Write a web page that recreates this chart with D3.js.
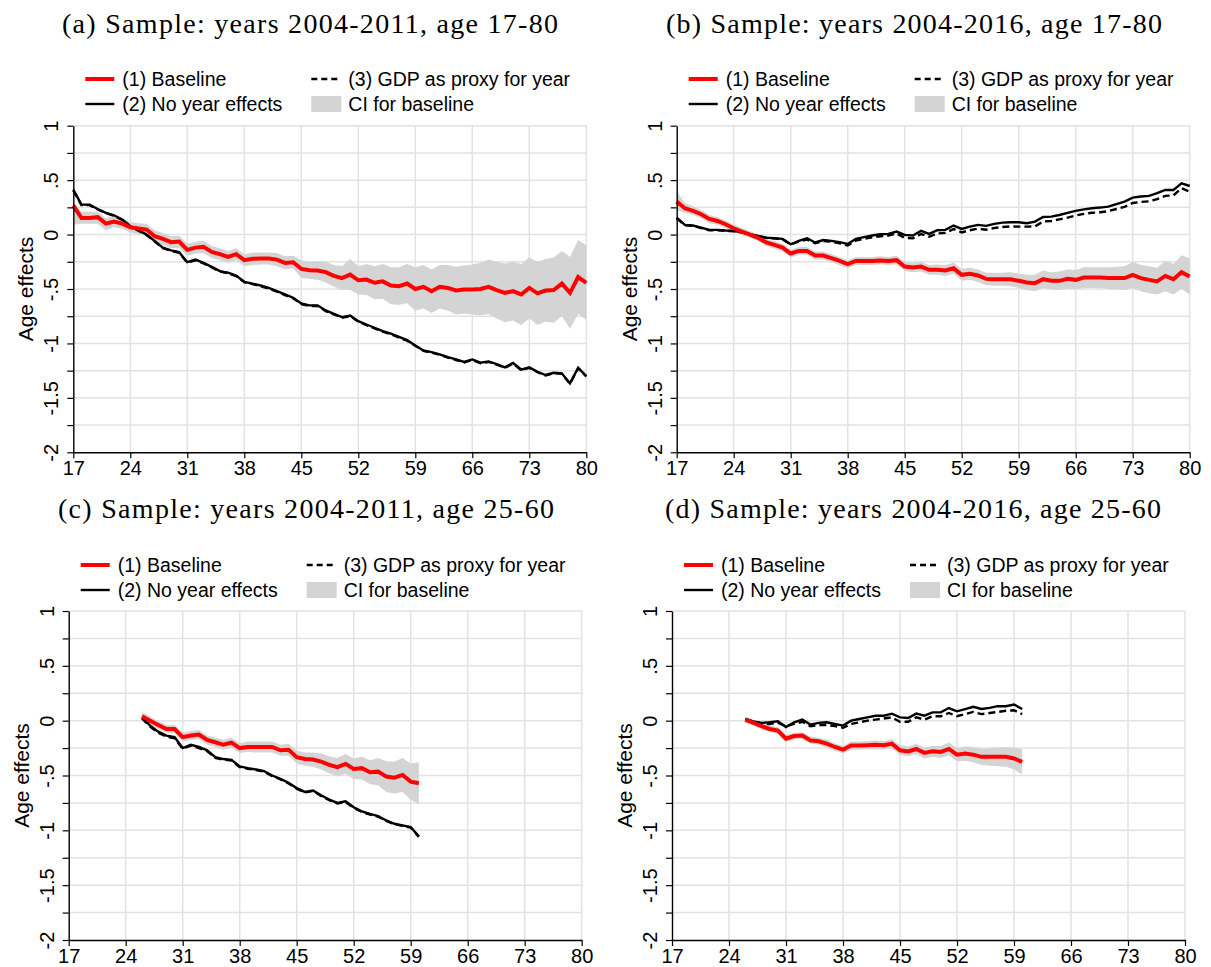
<!DOCTYPE html>
<html>
<head>
<meta charset="utf-8">
<script src="https://cdn.jsdelivr.net/npm/d3@7"></script>
<style>
  html, body { margin: 0; padding: 0; background: #fff; }
  svg { display: block; }
</style>
</head>
<body>
<svg id="chart" width="1211" height="967"></svg>
<script>
// ---- Age grids -------------------------------------------------------------
const agesFull = d3.range(17, 81);   // 17..80
const agesPrime = d3.range(26, 61);  // 26..60

// ---- Axis ticks ------------------------------------------------------------
const xTicks = [17, 24, 31, 38, 45, 52, 59, 66, 73, 80];
const yMajor = [1, 0.5, 0, -0.5, -1, -1.5, -2];
const yMajorLabels = ["1", ".5", "0", "-.5", "-1", "-1.5", "-2"];
const yMinor = [1, 0.75, 0.5, 0.25, 0, -0.25, -0.5, -0.75, -1, -1.25, -1.5, -1.75, -2];

// ---- Legend ----------------------------------------------------------------
const legendLabels = ["(1) Baseline", "(2) No year effects", "(3) GDP as proxy for year", "CI for baseline"];

// ---- Panel titles ----------------------------------------------------------
const panelTitles = [
  "(a) Sample: years 2004-2011, age 17-80",
  "(b) Sample: years 2004-2016, age 17-80",
  "(c) Sample: years 2004-2011, age 25-60",
  "(d) Sample: years 2004-2016, age 25-60"
];

// ---- (a) years 2004-2011, age 17-80 ---------------------------------------
const baselineA = [
  0.266, 0.153, 0.153, 0.16, 0.10, 0.12, 0.10, 0.067, 0.055, 0.046,
  -0.015, -0.04, -0.07, -0.064, -0.14, -0.12, -0.113, -0.16, -0.18, -0.205,
  -0.18, -0.235, -0.223, -0.22, -0.22, -0.23, -0.26, -0.254, -0.315, -0.327,
  -0.33, -0.345, -0.38, -0.40, -0.367, -0.42, -0.413, -0.443, -0.43, -0.468,
  -0.474, -0.45, -0.50, -0.48, -0.52, -0.48, -0.49, -0.514, -0.505, -0.505,
  -0.50, -0.48, -0.51, -0.535, -0.52, -0.55, -0.49, -0.54, -0.514, -0.51,
  -0.45, -0.535, -0.39, -0.443
];
const ciLowA = [
  0.09, 0.10, 0.10, 0.10, 0.04, 0.07, 0.05, 0.02, 0.005, -0.005,
  -0.065, -0.095, -0.125, -0.12, -0.195, -0.175, -0.17, -0.215, -0.235, -0.26,
  -0.235, -0.29, -0.28, -0.275, -0.275, -0.29, -0.32, -0.31, -0.40, -0.405,
  -0.415, -0.44, -0.48, -0.51, -0.51, -0.55, -0.555, -0.595, -0.59, -0.64,
  -0.645, -0.63, -0.70, -0.68, -0.72, -0.68, -0.70, -0.735, -0.725, -0.735,
  -0.74, -0.73, -0.77, -0.805, -0.79, -0.83, -0.77, -0.83, -0.80, -0.81,
  -0.75, -0.865, -0.73, -0.785
];
const ciHighA = [
  0.30, 0.21, 0.21, 0.21, 0.15, 0.17, 0.15, 0.115, 0.105, 0.10,
  0.04, 0.015, -0.015, -0.01, -0.085, -0.065, -0.055, -0.105, -0.125, -0.15,
  -0.125, -0.18, -0.165, -0.165, -0.165, -0.17, -0.20, -0.195, -0.235, -0.25,
  -0.245, -0.25, -0.28, -0.29, -0.225, -0.29, -0.27, -0.29, -0.27, -0.30,
  -0.30, -0.27, -0.30, -0.28, -0.32, -0.28, -0.28, -0.295, -0.285, -0.275,
  -0.26, -0.23, -0.25, -0.265, -0.25, -0.27, -0.21, -0.25, -0.225, -0.21,
  -0.15, -0.205, -0.05, -0.10
];
const noYearA = [
  0.413, 0.275, 0.275, 0.235, 0.20, 0.177, 0.138, 0.076, 0.04, 0.0,
  -0.06, -0.12, -0.145, -0.162, -0.254, -0.23, -0.26, -0.297, -0.336, -0.35,
  -0.376, -0.434, -0.45, -0.468, -0.49, -0.52, -0.55, -0.58, -0.633, -0.65,
  -0.65, -0.697, -0.728, -0.758, -0.743, -0.795, -0.826, -0.856, -0.887, -0.91,
  -0.94, -0.97, -1.018, -1.064, -1.08, -1.10, -1.125, -1.147, -1.17, -1.147,
  -1.177, -1.165, -1.19, -1.22, -1.18, -1.24, -1.22, -1.26, -1.29, -1.27,
  -1.275, -1.367, -1.223, -1.30
];
const gdpA = [
  0.405, 0.27, 0.27, 0.23, 0.198, 0.172, 0.135, 0.074, 0.036, -0.004,
  -0.064, -0.124, -0.15, -0.168, -0.258, -0.236, -0.265, -0.302, -0.34, -0.356,
  -0.382, -0.438, -0.455, -0.474, -0.496, -0.525, -0.556, -0.586, -0.638, -0.656,
  -0.656, -0.703, -0.733, -0.764, -0.748, -0.80, -0.832, -0.862, -0.892, -0.915,
  -0.946, -0.975, -1.022, -1.068, -1.085, -1.104, -1.13, -1.152, -1.174, -1.152,
  -1.182, -1.17, -1.195, -1.224, -1.186, -1.244, -1.225, -1.264, -1.294, -1.274,
  -1.28, -1.37, -1.228, -1.304
];

// ---- (b) years 2004-2016, age 17-80 ---------------------------------------
const baselineB = [
  0.303, 0.242, 0.217, 0.187, 0.144, 0.125, 0.095, 0.058, 0.028, 0.0,
  -0.03, -0.073, -0.095, -0.12, -0.174, -0.15, -0.15, -0.193, -0.193, -0.217,
  -0.242, -0.272, -0.242, -0.242, -0.242, -0.238, -0.242, -0.235, -0.294, -0.303,
  -0.294, -0.324, -0.324, -0.33, -0.31, -0.37, -0.36, -0.376, -0.407, -0.41,
  -0.41, -0.41, -0.425, -0.44, -0.446, -0.41, -0.425, -0.425, -0.407, -0.416,
  -0.394, -0.394, -0.394, -0.40, -0.40, -0.40, -0.37, -0.40, -0.416, -0.43,
  -0.38, -0.41, -0.346, -0.385
];
const ciLowB = [
  0.22, 0.20, 0.18, 0.15, 0.105, 0.09, 0.06, 0.025, -0.005, -0.03,
  -0.06, -0.105, -0.13, -0.155, -0.21, -0.185, -0.185, -0.23, -0.23, -0.255,
  -0.28, -0.31, -0.28, -0.28, -0.28, -0.275, -0.28, -0.275, -0.335, -0.345,
  -0.34, -0.37, -0.37, -0.38, -0.36, -0.425, -0.415, -0.435, -0.465, -0.47,
  -0.47, -0.475, -0.49, -0.51, -0.52, -0.49, -0.505, -0.51, -0.495, -0.505,
  -0.49, -0.49, -0.49, -0.50, -0.505, -0.51, -0.49, -0.52, -0.54, -0.55,
  -0.52, -0.55, -0.50, -0.55
];
const ciHighB = [
  0.40, 0.29, 0.26, 0.225, 0.18, 0.16, 0.13, 0.09, 0.06, 0.03,
  0.0, -0.04, -0.06, -0.085, -0.14, -0.115, -0.115, -0.155, -0.155, -0.18,
  -0.205, -0.235, -0.205, -0.205, -0.205, -0.20, -0.205, -0.195, -0.25, -0.26,
  -0.25, -0.28, -0.275, -0.28, -0.26, -0.315, -0.305, -0.32, -0.35, -0.35,
  -0.35, -0.345, -0.36, -0.37, -0.37, -0.33, -0.345, -0.34, -0.32, -0.325,
  -0.30, -0.30, -0.30, -0.30, -0.295, -0.29, -0.25, -0.28, -0.29, -0.305,
  -0.24, -0.27, -0.19, -0.22
];
const noYearB = [
  0.156, 0.089, 0.083, 0.064, 0.043, 0.043, 0.037, 0.034, 0.021, 0.003,
  -0.012, -0.028, -0.034, -0.04, -0.089, -0.058, -0.034, -0.073, -0.05, -0.058,
  -0.07, -0.086, -0.04, -0.024, -0.009, 0.003, 0.006, 0.028, -0.003, -0.009,
  0.034, 0.006, 0.04, 0.043, 0.083, 0.052, 0.073, 0.089, 0.08, 0.098,
  0.11, 0.113, 0.113, 0.104, 0.119, 0.162, 0.165, 0.18, 0.20, 0.217,
  0.232, 0.242, 0.248, 0.257, 0.28, 0.303, 0.34, 0.35, 0.355, 0.38,
  0.41, 0.41, 0.47, 0.446
];
const gdpB = [
  0.15, 0.085, 0.08, 0.06, 0.04, 0.04, 0.035, 0.03, 0.02, 0.0,
  -0.015, -0.03, -0.035, -0.045, -0.09, -0.065, -0.045, -0.08, -0.06, -0.065,
  -0.08, -0.10, -0.055, -0.04, -0.025, -0.015, -0.01, 0.01, -0.03, -0.035,
  0.005, -0.02, 0.01, 0.015, 0.05, 0.02, 0.04, 0.055, 0.045, 0.06,
  0.07, 0.075, 0.073, 0.073, 0.075, 0.12, 0.125, 0.14, 0.155, 0.175,
  0.19, 0.20, 0.205, 0.215, 0.235, 0.255, 0.29, 0.30, 0.305, 0.325,
  0.355, 0.36, 0.425, 0.394
];

// ---- (c) years 2004-2011, age 25-60 ---------------------------------------
const baselineC = [
  0.04, 0.0, -0.04, -0.076, -0.076, -0.15, -0.136, -0.127, -0.176, -0.197,
  -0.22, -0.20, -0.25, -0.24, -0.24, -0.24, -0.24, -0.27, -0.265, -0.333,
  -0.35, -0.355, -0.373, -0.403, -0.424, -0.394, -0.44, -0.433, -0.47, -0.465,
  -0.51, -0.52, -0.495, -0.556, -0.57
];
const ciLowC = [
  0.0, -0.035, -0.075, -0.11, -0.115, -0.19, -0.175, -0.17, -0.22, -0.24,
  -0.265, -0.245, -0.295, -0.285, -0.29, -0.29, -0.29, -0.32, -0.32, -0.39,
  -0.41, -0.42, -0.445, -0.48, -0.51, -0.485, -0.535, -0.535, -0.58, -0.59,
  -0.65, -0.665, -0.65, -0.72, -0.76
];
const ciHighC = [
  0.08, 0.035, -0.005, -0.04, -0.04, -0.11, -0.095, -0.085, -0.135, -0.155,
  -0.175, -0.155, -0.205, -0.19, -0.19, -0.19, -0.19, -0.22, -0.21, -0.275,
  -0.29, -0.29, -0.30, -0.325, -0.34, -0.305, -0.345, -0.33, -0.36, -0.34,
  -0.37, -0.375, -0.34, -0.39, -0.38
];
const noYearC = [
  0.03, -0.045, -0.10, -0.136, -0.15, -0.25, -0.22, -0.24, -0.27, -0.333,
  -0.35, -0.357, -0.418, -0.433, -0.445, -0.46, -0.50, -0.53, -0.567, -0.615,
  -0.65, -0.636, -0.68, -0.72, -0.75, -0.736, -0.79, -0.827, -0.85, -0.87,
  -0.91, -0.94, -0.955, -0.97, -1.055
];
const gdpC = [
  0.02, -0.055, -0.11, -0.145, -0.16, -0.255, -0.228, -0.25, -0.278, -0.34,
  -0.356, -0.363, -0.423, -0.438, -0.45, -0.466, -0.505, -0.535, -0.572, -0.62,
  -0.655, -0.642, -0.686, -0.725, -0.755, -0.742, -0.795, -0.832, -0.856, -0.875,
  -0.915, -0.945, -0.96, -0.975, -1.06
];

// ---- (d) years 2004-2016, age 25-60 ---------------------------------------
const baselineD = [
  0.01, -0.02, -0.05, -0.076, -0.09, -0.164, -0.14, -0.136, -0.18, -0.188,
  -0.21, -0.24, -0.264, -0.227, -0.227, -0.224, -0.22, -0.224, -0.21, -0.27,
  -0.28, -0.258, -0.294, -0.28, -0.285, -0.258, -0.31, -0.30, -0.31, -0.33,
  -0.33, -0.33, -0.33, -0.345, -0.375
];
const ciLowD = [
  -0.015, -0.045, -0.08, -0.105, -0.12, -0.195, -0.17, -0.17, -0.21, -0.22,
  -0.245, -0.275, -0.30, -0.265, -0.265, -0.26, -0.26, -0.265, -0.25, -0.315,
  -0.325, -0.305, -0.345, -0.33, -0.34, -0.315, -0.37, -0.365, -0.38, -0.405,
  -0.41, -0.415, -0.42, -0.445, -0.49
];
const ciHighD = [
  0.04, 0.005, -0.02, -0.045, -0.06, -0.13, -0.11, -0.105, -0.145, -0.155,
  -0.175, -0.205, -0.23, -0.19, -0.19, -0.185, -0.18, -0.185, -0.17, -0.225,
  -0.235, -0.21, -0.245, -0.23, -0.23, -0.20, -0.25, -0.235, -0.24, -0.255,
  -0.25, -0.245, -0.24, -0.245, -0.26
];
const noYearD = [
  0.015, -0.006, -0.02, -0.015, -0.006, -0.058, -0.015, 0.01, -0.036, -0.02,
  -0.015, -0.03, -0.045, 0.0, 0.015, 0.03, 0.045, 0.045, 0.064, 0.03,
  0.024, 0.064, 0.045, 0.076, 0.076, 0.115, 0.085, 0.106, 0.126, 0.107,
  0.117, 0.132, 0.132, 0.147, 0.107
];
const gdpD = [
  0.01, -0.01, -0.025, -0.03, -0.02, -0.05, -0.03, -0.01, -0.05, -0.04,
  -0.04, -0.05, -0.065, -0.03, -0.015, 0.0, 0.01, 0.02, 0.03, -0.01,
  -0.01, 0.03, 0.01, 0.04, 0.04, 0.07, 0.04, 0.06, 0.08, 0.06,
  0.07, 0.08, 0.09, 0.095, 0.06
];

// ---- Panel layout ----------------------------------------------------------
const panels = [
  { title: panelTitles[0], ages: agesFull, base: baselineA, lo: ciLowA, hi: ciHighA, noYear: noYearA, gdp: gdpA,
    x0: 73.3, x1: 586.3, yTop: 125.7, yBot: 452.3, titleX: 62, titleY: 33, legY: 79 },
  { title: panelTitles[1], ages: agesFull, base: baselineB, lo: ciLowB, hi: ciHighB, noYear: noYearB, gdp: gdpB,
    x0: 676.7, x1: 1189.7, yTop: 125.7, yBot: 452.3, titleX: 666, titleY: 33, legY: 79 },
  { title: panelTitles[2], ages: agesPrime, base: baselineC, lo: ciLowC, hi: ciHighC, noYear: noYearC, gdp: gdpC,
    x0: 68.7, x1: 581.7, yTop: 611, yBot: 940, titleX: 58, titleY: 518, legY: 565 },
  { title: panelTitles[3], ages: agesPrime, base: baselineD, lo: ciLowD, hi: ciHighD, noYear: noYearD, gdp: gdpD,
    x0: 672, x1: 1185, yTop: 611, yBot: 940, titleX: 665, titleY: 518, legY: 565 }
];

const SANS = "'Liberation Sans', Arial, Helvetica, sans-serif";
const SERIF = "'Liberation Serif', 'Times New Roman', serif";
const RED = "#ff0000";
const CI_FILL = "#d4d4d4";
const GRID = "#e2e2e2";

const svg = d3.select("#chart");

panels.forEach(p => {
  const g = svg.append("g");
  const x = d3.scaleLinear().domain([17, 80]).range([p.x0, p.x1]);
  const y = d3.scaleLinear().domain([-2, 1]).range([p.yBot, p.yTop]);

  // Title
  g.append("text")
    .attr("x", p.titleX).attr("y", p.titleY)
    .attr("font-family", SERIF).attr("font-size", 28)
    .attr("textLength", 496).attr("lengthAdjust", "spacing")
    .attr("fill", "#000")
    .text(p.title);

  // Grid
  g.append("g").selectAll("line").data(yMinor.filter(v => v > -2)).join("line")
    .attr("x1", p.x0).attr("x2", p.x1)
    .attr("y1", d => y(d)).attr("y2", d => y(d))
    .attr("stroke", GRID).attr("stroke-width", 1.5);
  g.append("g").selectAll("line").data(xTicks.filter(v => v > 17)).join("line")
    .attr("x1", d => x(d)).attr("x2", d => x(d))
    .attr("y1", p.yTop).attr("y2", p.yBot)
    .attr("stroke", GRID).attr("stroke-width", 1.5);

  // Series
  const rows = p.ages.map((a, i) => ({ age: a, base: p.base[i], lo: p.lo[i], hi: p.hi[i], noYear: p.noYear[i], gdp: p.gdp[i] }));

  g.append("path").datum(rows)
    .attr("fill", CI_FILL).attr("stroke", "none")
    .attr("d", d3.area().x(d => x(d.age)).y0(d => y(d.lo)).y1(d => y(d.hi)));

  g.append("path").datum(rows)
    .attr("fill", "none").attr("stroke", "#000").attr("stroke-width", 2.4)
    .attr("stroke-dasharray", "7,4")
    .attr("d", d3.line().x(d => x(d.age)).y(d => y(d.gdp)));

  g.append("path").datum(rows)
    .attr("fill", "none").attr("stroke", "#000").attr("stroke-width", 2.4)
    .attr("d", d3.line().x(d => x(d.age)).y(d => y(d.noYear)));

  g.append("path").datum(rows)
    .attr("fill", "none").attr("stroke", RED).attr("stroke-width", 4)
    .attr("d", d3.line().x(d => x(d.age)).y(d => y(d.base)));

  // Y axis
  const yAxis = g.append("g")
    .attr("transform", `translate(${p.x0},0)`)
    .call(d3.axisLeft(y).tickValues(yMinor).tickSize(6).tickSizeOuter(0)
      .tickFormat(d => {
        const k = yMajor.indexOf(d);
        return k >= 0 ? yMajorLabels[k] : "";
      }));
  yAxis.select(".domain").attr("stroke", "#000").attr("stroke-width", 1.4);
  yAxis.selectAll(".tick line").attr("stroke", "#000").attr("stroke-width", 1.2);
  yAxis.selectAll(".tick text")
    .attr("x", null).attr("dy", null)
    .attr("transform", "translate(-15,0) rotate(-90)")
    .attr("text-anchor", "middle")
    .attr("font-family", SANS).attr("font-size", 20).attr("fill", "#000");

  // X axis
  const xAxis = g.append("g")
    .attr("transform", `translate(0,${p.yBot})`)
    .call(d3.axisBottom(x).tickValues(xTicks).tickSize(6).tickSizeOuter(0).tickFormat(d3.format("d")));
  xAxis.select(".domain").attr("stroke", "#000").attr("stroke-width", 1.4);
  xAxis.selectAll(".tick line").attr("stroke", "#000").attr("stroke-width", 1.2);
  xAxis.selectAll(".tick text")
    .attr("font-family", SANS).attr("font-size", 20).attr("fill", "#000");

  // Y axis title
  g.append("text")
    .attr("transform", `translate(${p.x0 - 40},${(p.yTop + p.yBot) / 2}) rotate(-90)`)
    .attr("text-anchor", "middle")
    .attr("font-family", SANS).attr("font-size", 21).attr("fill", "#000")
    .text("Age effects");

  // Legend
  const lg = g.append("g").attr("font-family", SANS).attr("font-size", 19.5).attr("fill", "#000");
  const c1 = p.x0 + 12, c2 = p.x0 + 238, r1 = p.legY, r2 = p.legY + 25;
  lg.append("line").attr("x1", c1).attr("x2", c1 + 29).attr("y1", r1).attr("y2", r1)
    .attr("stroke", RED).attr("stroke-width", 4);
  lg.append("line").attr("x1", c1).attr("x2", c1 + 29).attr("y1", r2).attr("y2", r2)
    .attr("stroke", "#000").attr("stroke-width", 2.4);
  lg.append("line").attr("x1", c2).attr("x2", c2 + 29).attr("y1", r1).attr("y2", r1)
    .attr("stroke", "#000").attr("stroke-width", 2.4).attr("stroke-dasharray", "6,4");
  lg.append("rect").attr("x", c2).attr("y", r2 - 8).attr("width", 30).attr("height", 16)
    .attr("fill", CI_FILL);
  const legPos = [[c1 + 37, r1], [c1 + 37, r2], [c2 + 37, r1], [c2 + 37, r2]];
  legendLabels.forEach((t, i) => {
    lg.append("text").attr("x", legPos[i][0]).attr("y", legPos[i][1]).attr("dy", "0.35em").text(t);
  });
});
</script>
</body>
</html>
